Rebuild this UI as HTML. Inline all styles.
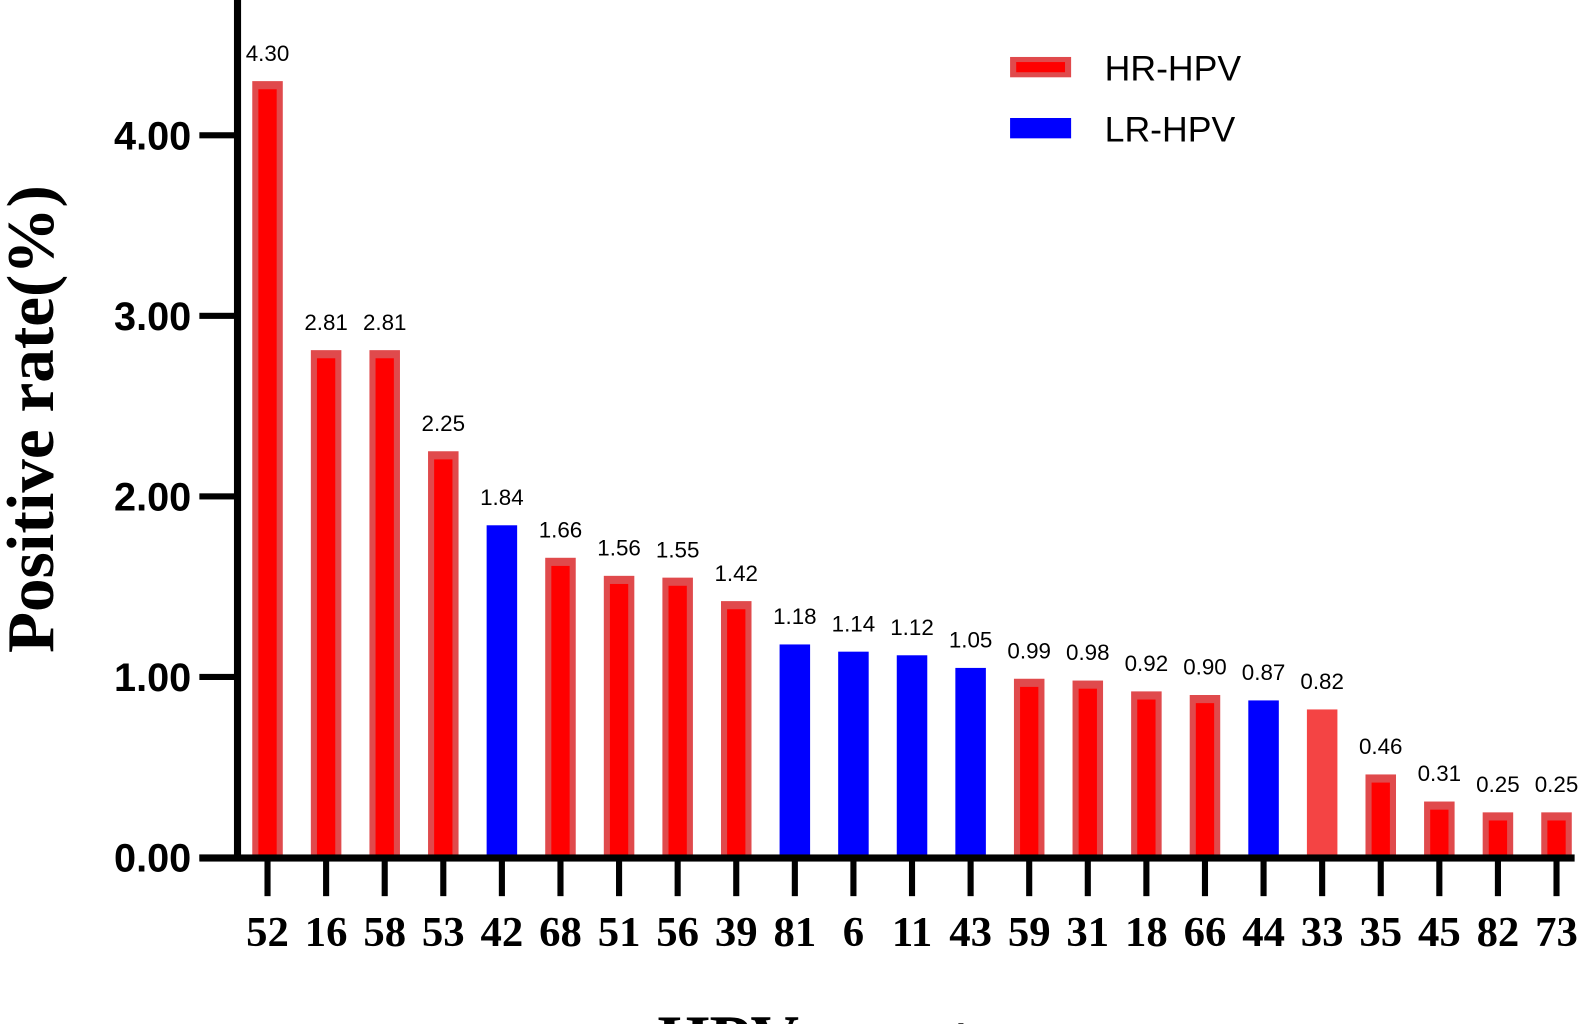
<!DOCTYPE html>
<html><head><meta charset="utf-8"><style>
html,body{margin:0;padding:0;background:#fff;overflow:hidden;width:1595px;height:1024px}
#wrap{position:absolute;left:0;top:0;width:1595px;height:1024px;overflow:hidden}
svg{display:block;overflow:hidden}
</style></head><body>
<div id="wrap">
<svg id="chart" width="1595" height="1024" viewBox="0 0 1595 1024" xmlns="http://www.w3.org/2000/svg">
<g id="plot" transform="scale(1.0172)"></g>
</svg>
</div>
<script>
const categories=["52","16","58","53","42","68","51","56","39","81","6","11","43","59","31","18","66","44","33","35","45","82","73"];
const values=[4.30,2.81,2.81,2.25,1.84,1.66,1.56,1.55,1.42,1.18,1.14,1.12,1.05,0.99,0.98,0.92,0.90,0.87,0.82,0.46,0.31,0.25,0.25];
const groups=["HR","HR","HR","HR","LR","HR","HR","HR","HR","LR","LR","LR","LR","HR","HR","HR","HR","LR","HR2","HR","HR","HR","HR"];
const yTicks=[0,1,2,3,4];
const yTickLabels=["0.00","1.00","2.00","3.00","4.00"];
const NS="http://www.w3.org/2000/svg";
const g=document.getElementById('plot');
const y0=843, pxPer=177.5;
function yS(v){return y0-v*pxPer;}
function xS(i){return 263+i*57.6;}
function mk(t,a){const e=document.createElementNS(NS,t);for(const k in a)e.setAttribute(k,a[k]);g.appendChild(e);return e;}
values.forEach((v,i)=>{
  const cx=xS(i), w=30, top=yS(v), h=y0-top;
  let r;
  if(groups[i]==="LR"){
    r=mk('rect',{x:cx-w/2,y:top,width:w,height:h,fill:'#0000ff'});
  }else if(groups[i]==="HR2"){
    r=mk('rect',{x:cx-w/2,y:top,width:w,height:h,fill:'#f44444'});
  }else{
    r=mk('rect',{x:cx-w/2,y:top,width:w,height:h,fill:'#e04a4c'});
    const inner=mk('rect',{x:cx-w/2+6,y:top+8,width:w-12,height:Math.max(0,h-8),fill:'#ff0000'});
    
    
  }
  
  
  const lab=mk('text',{x:cx,y:top-20,'text-anchor':'middle','font-family':'Liberation Sans, sans-serif','font-size':'22',fill:'#000'});
  lab.textContent=values[i].toFixed(2);
  
  
  const tk=mk('rect',{x:cx-3,y:y0,width:6,height:38,fill:'#000'});
  
  
  const tl=mk('text',{x:cx,y:930,'text-anchor':'middle','font-family':'Liberation Serif, serif','font-weight':'bold','font-size':'42',fill:'#000'});
  tl.textContent=categories[i];
  
  
});
const ya=mk('rect',{x:230,y:0,width:7,height:y0+3,fill:'#000'});


const xa=mk('rect',{x:196,y:y0-3,width:1352,height:7,fill:'#000'});


yTicks.forEach((v,i)=>{
  const t=mk('rect',{x:196,y:yS(v)-3,width:37,height:6,fill:'#000'});
  
  
  const l=mk('text',{x:188,y:yS(v)+14,'text-anchor':'end','font-family':'Liberation Sans, sans-serif','font-weight':'bold','font-size':'39',fill:'#000'});
  l.textContent=yTickLabels[i];
  
  
});
const yt=mk('text',{x:0,y:0,transform:'translate(52,412) rotate(-90)','text-anchor':'middle','font-family':'Liberation Serif, serif','font-weight':'bold','font-size':'66',fill:'#000'});
yt.textContent='Positive rate(%)';


const xt=mk('text',{x:850,y:1043,'text-anchor':'middle','font-family':'Liberation Serif, serif','font-weight':'bold','font-size':'66',fill:'#000'});
xt.textContent='HPV genotype';


const l1=mk('rect',{x:993,y:56,width:60,height:20,fill:'#e04a4c'});


const l1i=mk('rect',{x:999,y:61,width:48,height:10,fill:'#ff0000'});


const t1=mk('text',{x:1086,y:79,'font-family':'Liberation Sans, sans-serif','font-size':'35',fill:'#000'});
t1.textContent='HR-HPV';


const l2=mk('rect',{x:993,y:116,width:60,height:20,fill:'#0000ff'});


const t2=mk('text',{x:1086,y:139,'font-family':'Liberation Sans, sans-serif','font-size':'35',fill:'#000'});
t2.textContent='LR-HPV';


</script>
</body></html>
